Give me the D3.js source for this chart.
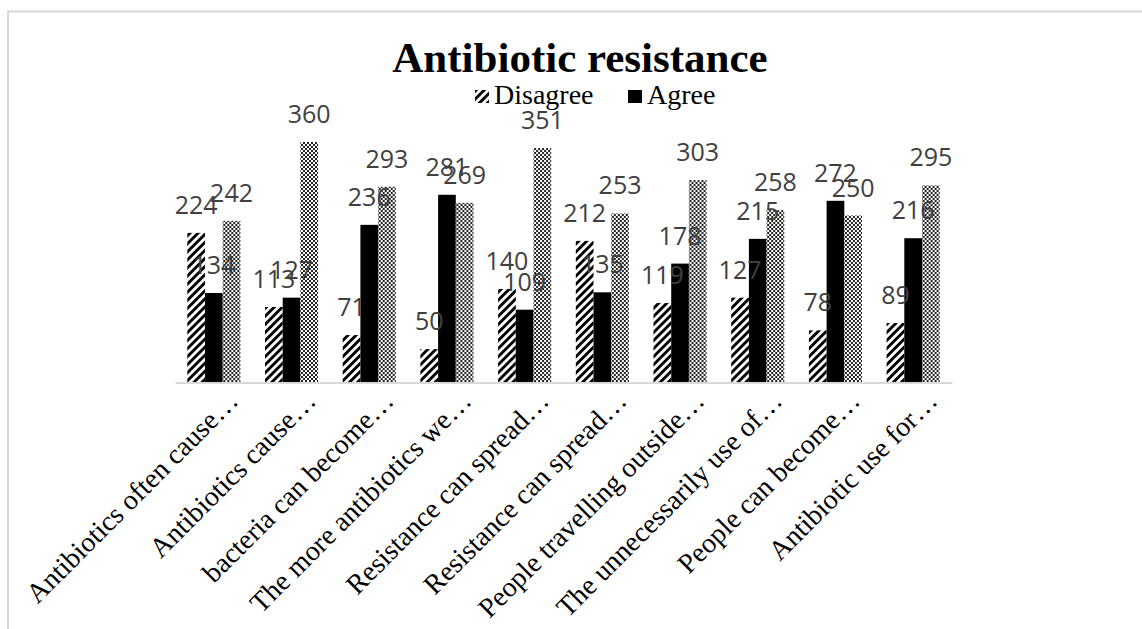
<!DOCTYPE html>
<html>
<head>
<meta charset="utf-8">
<script src="https://cdn.jsdelivr.net/npm/d3@7"></script>
<style>
  body { margin: 0; background: #fff; }
  .title { font-family: "Liberation Serif", "Times New Roman", serif; font-weight: bold; }
  .legend text, .x-axis text { font-family: "Liberation Serif", "Times New Roman", serif; fill: #000; }
  .value-label { font-family: "Open Sans", "Noto Sans", sans-serif; fill: #404040; }
</style>
</head>
<body>
<div id="chart"></div>
<script>

// categories (truncated as in the original axis)
var categories = [
  "Antibiotics often cause…", "Antibiotics cause…", "bacteria can become…",
  "The more antibiotics we…", "Resistance can spread…", "Resistance can spread…",
  "People travelling outside…", "The unnecessarily use of…", "People can become…",
  "Antibiotic use for…"
];

var seriesNames = ["Disagree", "Agree", "Not sure"];
var disagree = [224, 113, 71, 50, 140, 212, 119, 127, 78, 89];
var agree    = [134, 127, 236, 281, 109, 135, 178, 215, 272, 216];
var notSure  = [242, 360, 293, 269, 351, 253, 303, 258, 250, 295];

// only two entries are shown in the legend
var legendNames = ["Disagree", "Agree"];

var chartTitle = "Antibiotic resistance";


BarChart = function(_parentElement){
  this.parentElement = _parentElement;
  this.displayData = [];
  this.initVis();
}

BarChart.prototype.initVis = function(){
  var vis = this;

  vis.width = 1142;
  vis.height = 629;

  vis.svg = d3.select("#" + vis.parentElement).append("svg")
      .attr("width", vis.width)
      .attr("height", vis.height);

  // fill patterns
  var defs = vis.svg.append("defs");

  var hatch = defs.append("pattern")
      .attr("id", "hatch")
      .attr("patternUnits", "userSpaceOnUse")
      .attr("width", 5.7)
      .attr("height", 5.7)
      .attr("patternTransform", "rotate(45)");
  hatch.append("rect").attr("width", 5.7).attr("height", 5.7).attr("fill", "#fff");
  hatch.append("rect").attr("width", 2.9).attr("height", 5.7).attr("fill", "#000");

  var checker = defs.append("pattern")
      .attr("id", "checker")
      .attr("patternUnits", "userSpaceOnUse")
      .attr("width", 4)
      .attr("height", 4);
  checker.append("rect").attr("width", 4).attr("height", 4).attr("fill", "#fff");
  checker.append("rect").attr("width", 2).attr("height", 2).attr("fill", "#222");
  checker.append("rect").attr("x", 2).attr("y", 2).attr("width", 2).attr("height", 2).attr("fill", "#222");

  vis.fills = { "Disagree": "url(#hatch)", "Agree": "#000", "Not sure": "url(#checker)" };

  // chart frame
  vis.svg.append("rect")
      .attr("x", 8)
      .attr("y", 11.5)
      .attr("width", 1300)
      .attr("height", 800)
      .attr("fill", "none")
      .attr("stroke", "#d9d9d9")
      .attr("stroke-width", 2);

  vis.x = d3.scaleBand()
      .domain(d3.range(categories.length))
      .range([175, 952])
      .paddingInner(0.317)
      .paddingOuter(0.1585);

  vis.x1 = d3.scaleBand()
      .domain(seriesNames)
      .range([0, vis.x.bandwidth()]);

  vis.y = d3.scaleLinear()
      .domain([0, 400])
      .range([382.5, 115.3]);

  vis.xAxis = d3.axisBottom()
      .scale(vis.x)
      .tickSize(0)
      .tickSizeOuter(0)
      .tickFormat(function(i){ return categories[i]; });

  vis.svg.append("text")
      .attr("class", "title")
      .attr("x", 580)
      .attr("y", 72)
      .attr("text-anchor", "middle")
      .style("font-size", "43px")
      .text(chartTitle);

  // legend
  var legend = vis.svg.append("g")
      .attr("class", "legend");

  var legendX = [475, 628];
  legendNames.forEach(function(name, i){
    legend.append("rect")
        .attr("x", legendX[i])
        .attr("y", 90)
        .attr("width", 14)
        .attr("height", 13)
        .attr("fill", vis.fills[name]);
    legend.append("text")
        .attr("x", legendX[i] + 19)
        .attr("y", 104)
        .style("font-size", "28px")
        .text(name);
  });

  vis.wrangleData();
}

BarChart.prototype.wrangleData = function(){
  var vis = this;

  var values = { "Disagree": disagree, "Agree": agree, "Not sure": notSure };

  vis.displayData = categories.map(function(c, i){
    return seriesNames.map(function(s){
      return { index: i, series: s, value: values[s][i] };
    });
  });

  vis.updateVis();
}

BarChart.prototype.updateVis = function(){
  var vis = this;

  var groups = vis.svg.append("g").selectAll(".group")
      .data(vis.displayData)
    .enter().append("g")
      .attr("class", "group")
      .attr("transform", function(d, i){ return "translate(" + vis.x(i) + ",0)"; });

  groups.selectAll("rect")
      .data(function(d){ return d; })
    .enter().append("rect")
      .attr("x", function(d){ return vis.x1(d.series); })
      .attr("y", function(d){ return vis.y(d.value); })
      .attr("width", vis.x1.bandwidth())
      .attr("height", function(d){ return vis.y(0) - vis.y(d.value); })
      .attr("fill", function(d){ return vis.fills[d.series]; });

  // axis
  var axisG = vis.svg.append("g")
      .attr("class", "x-axis")
      .attr("transform", "translate(0," + vis.y(0) + ")")
      .call(vis.xAxis);

  axisG.select(".domain")
      .attr("stroke", "#d9d9d9")
      .attr("stroke-width", 2);

  axisG.selectAll("text")
      .attr("x", 0)
      .attr("y", 0)
      .attr("dy", 0)
      .attr("text-anchor", "end")
      .attr("transform", "translate(26,20) rotate(-45)")
      .attr("font-family", null)
      .attr("font-size", null)
      .style("font-size", "28px");

  // data labels
  groups.selectAll(".value-label")
      .data(function(d){ return d; })
    .enter().append("text")
      .attr("class", "value-label")
      .attr("x", function(d){ return vis.x1(d.series) + vis.x1.bandwidth() / 2; })
      .attr("y", function(d){ return vis.y(d.value) - 19; })
      .attr("text-anchor", "middle")
      .style("font-size", "25px")
      .text(function(d){ return d.value; });
}

new BarChart("chart");

</script>
</body>
</html>
